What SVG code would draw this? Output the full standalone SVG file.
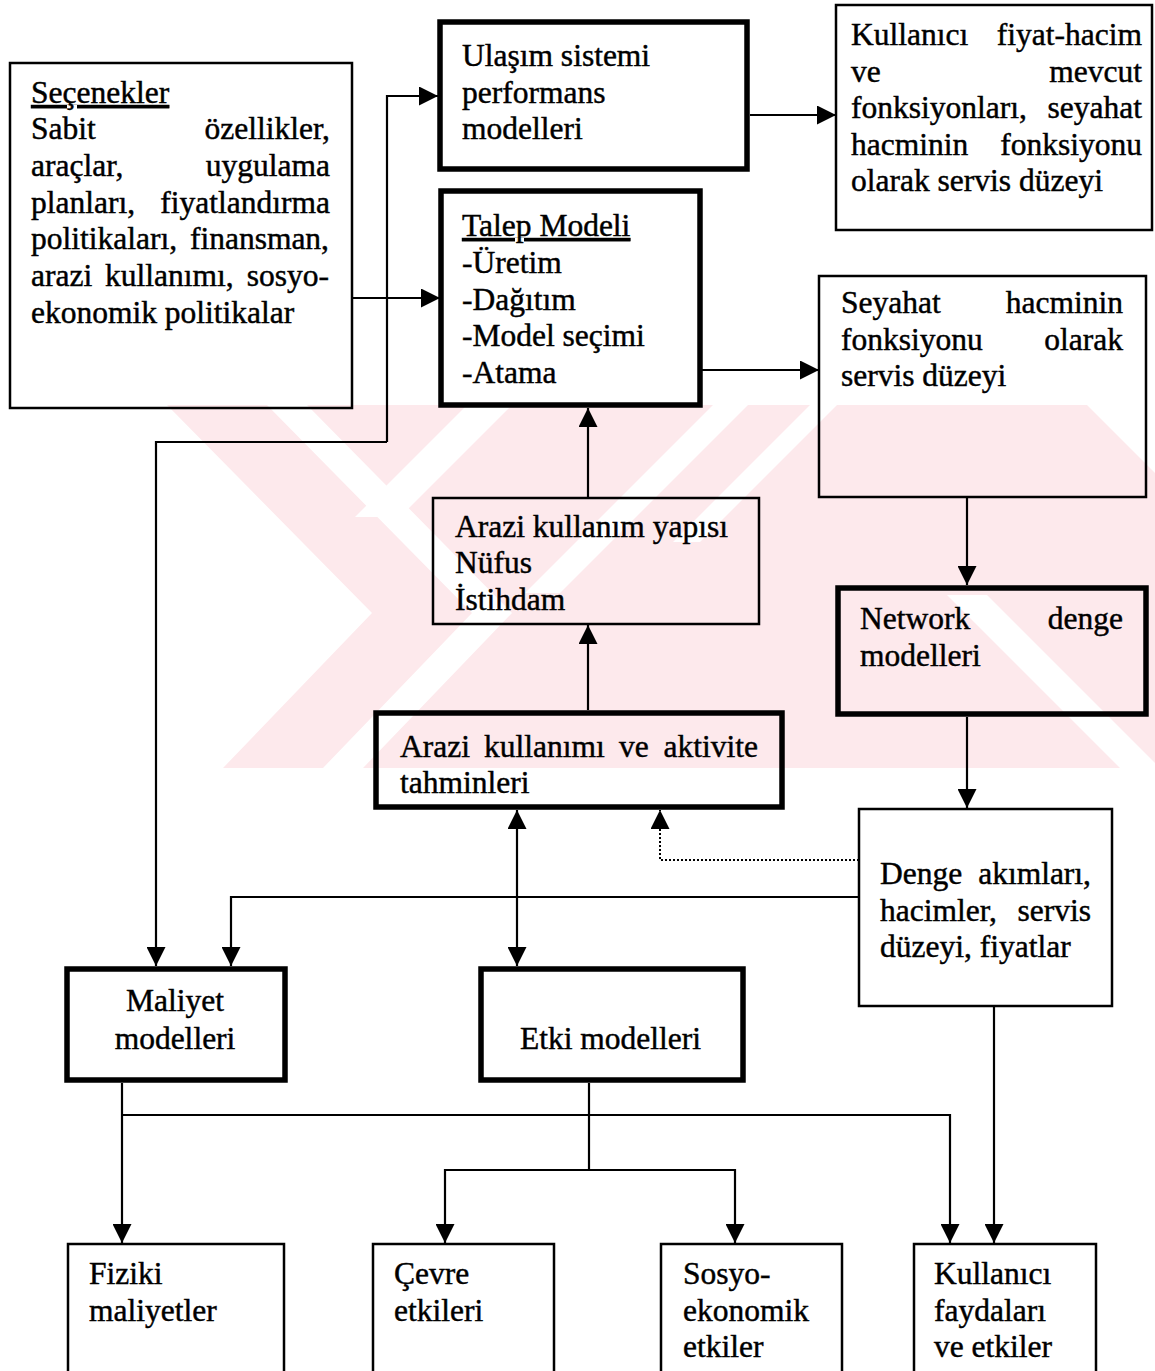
<svg xmlns="http://www.w3.org/2000/svg" width="1155" height="1371" viewBox="0 0 1155 1371">
  <style>
    .bx { fill: none; stroke: #000; stroke-width: 2.5; }
    .bk { fill: none; stroke: #000; stroke-width: 5.5; }
    .ln { fill: none; stroke: #000; stroke-width: 2.2; }
    .dot { fill: none; stroke: #000; stroke-width: 2; stroke-dasharray: 2 2; }
    text { font-family: "Liberation Serif", "Times New Roman", serif; font-size: 31.5px; fill: #000; stroke: #000; stroke-width: 0.45; }
    .r { text-anchor: end; }
    .m { text-anchor: middle; }
    .u { text-decoration: underline; }
    .wm { fill: #fde9ec; }
    .wg { fill: #fff; }
  </style>
  <defs>
    <marker id="ah" viewBox="0 0 19 19" refX="19" refY="9.5" markerWidth="19" markerHeight="19" markerUnits="userSpaceOnUse" orient="auto-start-reverse">
      <path d="M0,0 L19,9.5 L0,19 z" fill="#000"/>
    </marker>
    <clipPath id="wmclip">
      <rect x="0" y="405" width="1155" height="363"/>
    </clipPath>
  </defs>

  <rect width="1155" height="1371" fill="#fff"/>

  <!-- faint striped emblem behind the middle of the page -->
  <g id="watermark" clip-path="url(#wmclip)">
    <polygon class="wm" points="167,405 1087,405 1155,473 1155,768 223,768 372,613"/>
    <polygon class="wg" points="267,405 307,405 512,613 363,768 323,768 472,613"/>
    <polygon class="wg" points="467,405 512,405 400,517 355,517"/>
    <polygon class="wg" points="713,405 748,405 560,593 525,593"/>
    <polygon class="wg" points="810,405 837,405 700,542 673,542"/>
    <polygon class="wg" points="947,595 987,595 1160,768 1120,768"/>
  </g>

  <!-- connectors -->
  <g id="connectors">
    <path class="ln" d="M352,298 H440" marker-end="url(#ah)"/>
    <path class="ln" d="M387,442 V96 H438" marker-end="url(#ah)"/>
    <path class="ln" d="M387,442 H156 V966" marker-end="url(#ah)"/>
    <path class="ln" d="M750,115 H836" marker-end="url(#ah)"/>
    <path class="ln" d="M702,370 H819" marker-end="url(#ah)"/>
    <path class="ln" d="M588,498 V408" marker-end="url(#ah)"/>
    <path class="ln" d="M588,710 V625" marker-end="url(#ah)"/>
    <path class="ln" d="M967,497 V585" marker-end="url(#ah)"/>
    <path class="ln" d="M967,717 V808" marker-end="url(#ah)"/>
    <path class="dot" d="M859,860 H660 V810" marker-end="url(#ah)"/>
    <path class="ln" d="M859,897 H231 V966" marker-end="url(#ah)"/>
    <path class="ln" d="M517,810 V966" marker-start="url(#ah)" marker-end="url(#ah)"/>
    <path class="ln" d="M122,1083 V1243" marker-end="url(#ah)"/>
    <path class="ln" d="M122,1115 H950 V1243" marker-end="url(#ah)"/>
    <path class="ln" d="M589,1083 V1170"/>
    <path class="ln" d="M589,1170 H445 V1243" marker-end="url(#ah)"/>
    <path class="ln" d="M589,1170 H735 V1243" marker-end="url(#ah)"/>
    <path class="ln" d="M994,1006 V1243" marker-end="url(#ah)"/>
  </g>

  <g id="secenekler">
    <rect class="bx" x="10" y="63" width="342" height="345"/>
    <text class="u" x="31" y="103">Seçenekler</text>
    <text x="31" y="139">Sabit</text><text class="r" x="330" y="139">özellikler,</text>
    <text x="31" y="176">araçlar,</text><text class="r" x="330" y="176">uygulama</text>
    <text x="31" y="213">planları,</text><text class="r" x="330" y="213">fiyatlandırma</text>
    <text x="31" y="249">politikaları,</text><text class="r" x="329" y="249">finansman,</text>
    <text x="31" y="286">arazi</text><text x="105" y="286">kullanımı,</text><text class="r" x="329" y="286">sosyo-</text>
    <text x="31" y="323">ekonomik politikalar</text>
  </g>

  <g id="ulasim">
    <rect class="bk" x="440" y="22" width="307" height="147"/>
    <text x="462" y="66">Ulaşım sistemi</text>
    <text x="462" y="103">performans</text>
    <text x="462" y="139">modelleri</text>
  </g>

  <g id="kullanici-fiyat">
    <rect class="bx" x="836" y="5" width="316" height="225"/>
    <text x="851" y="45">Kullanıcı</text><text class="r" x="1142" y="45">fiyat-hacim</text>
    <text x="851" y="82">ve</text><text class="r" x="1142" y="82">mevcut</text>
    <text x="851" y="118">fonksiyonları,</text><text class="r" x="1142" y="118">seyahat</text>
    <text x="851" y="155">hacminin</text><text class="r" x="1142" y="155">fonksiyonu</text>
    <text x="851" y="191">olarak servis düzeyi</text>
  </g>

  <g id="talep">
    <rect class="bk" x="441" y="191" width="259" height="214"/>
    <text class="u" x="462" y="236">Talep Modeli</text>
    <text x="462" y="273">-Üretim</text>
    <text x="462" y="310">-Dağıtım</text>
    <text x="462" y="346">-Model seçimi</text>
    <text x="462" y="383">-Atama</text>
  </g>

  <g id="seyahat">
    <rect class="bx" x="819" y="276" width="327" height="221"/>
    <text x="841" y="313">Seyahat</text><text class="r" x="1123" y="313">hacminin</text>
    <text x="841" y="350">fonksiyonu</text><text class="r" x="1123" y="350">olarak</text>
    <text x="841" y="386">servis düzeyi</text>
  </g>

  <g id="arazi-yapisi">
    <rect class="bx" x="433" y="498" width="326" height="126"/>
    <text x="455" y="537">Arazi kullanım yapısı</text>
    <text x="455" y="573">Nüfus</text>
    <text x="455" y="610">İstihdam</text>
  </g>

  <g id="network">
    <rect class="bk" x="838" y="588" width="308" height="126"/>
    <text x="860" y="629">Network</text><text class="r" x="1123" y="629">denge</text>
    <text x="860" y="666">modelleri</text>
  </g>

  <g id="aktivite">
    <rect class="bk" x="376" y="713" width="406" height="94"/>
    <text x="400" y="757">Arazi</text><text x="484" y="757">kullanımı</text><text x="619" y="757">ve</text><text class="r" x="758" y="757">aktivite</text>
    <text x="400" y="793">tahminleri</text>
  </g>

  <g id="denge">
    <rect class="bx" x="859" y="809" width="253" height="197"/>
    <text x="880" y="884">Denge</text><text class="r" x="1091" y="884">akımları,</text>
    <text x="880" y="921">hacimler,</text><text class="r" x="1091" y="921">servis</text>
    <text x="880" y="957">düzeyi, fiyatlar</text>
  </g>

  <g id="maliyet">
    <rect class="bk" x="67" y="969" width="218" height="111"/>
    <text class="m" x="175" y="1011">Maliyet</text>
    <text class="m" x="175" y="1049">modelleri</text>
  </g>

  <g id="etki">
    <rect class="bk" x="481" y="969" width="262" height="111"/>
    <text x="520" y="1049">Etki modelleri</text>
  </g>

  <g id="fiziki">
    <rect class="bx" x="68" y="1244" width="216" height="140"/>
    <text x="89" y="1284">Fiziki</text>
    <text x="89" y="1321">maliyetler</text>
  </g>

  <g id="cevre">
    <rect class="bx" x="373" y="1244" width="181" height="140"/>
    <text x="394" y="1284">Çevre</text>
    <text x="394" y="1321">etkileri</text>
  </g>

  <g id="sosyo">
    <rect class="bx" x="661" y="1244" width="181" height="140"/>
    <text x="683" y="1284">Sosyo-</text>
    <text x="683" y="1321">ekonomik</text>
    <text x="683" y="1357">etkiler</text>
  </g>

  <g id="kullanici-fayda">
    <rect class="bx" x="914" y="1244" width="182" height="140"/>
    <text x="934" y="1284">Kullanıcı</text>
    <text x="934" y="1321">faydaları</text>
    <text x="934" y="1357">ve etkiler</text>
  </g>
</svg>
